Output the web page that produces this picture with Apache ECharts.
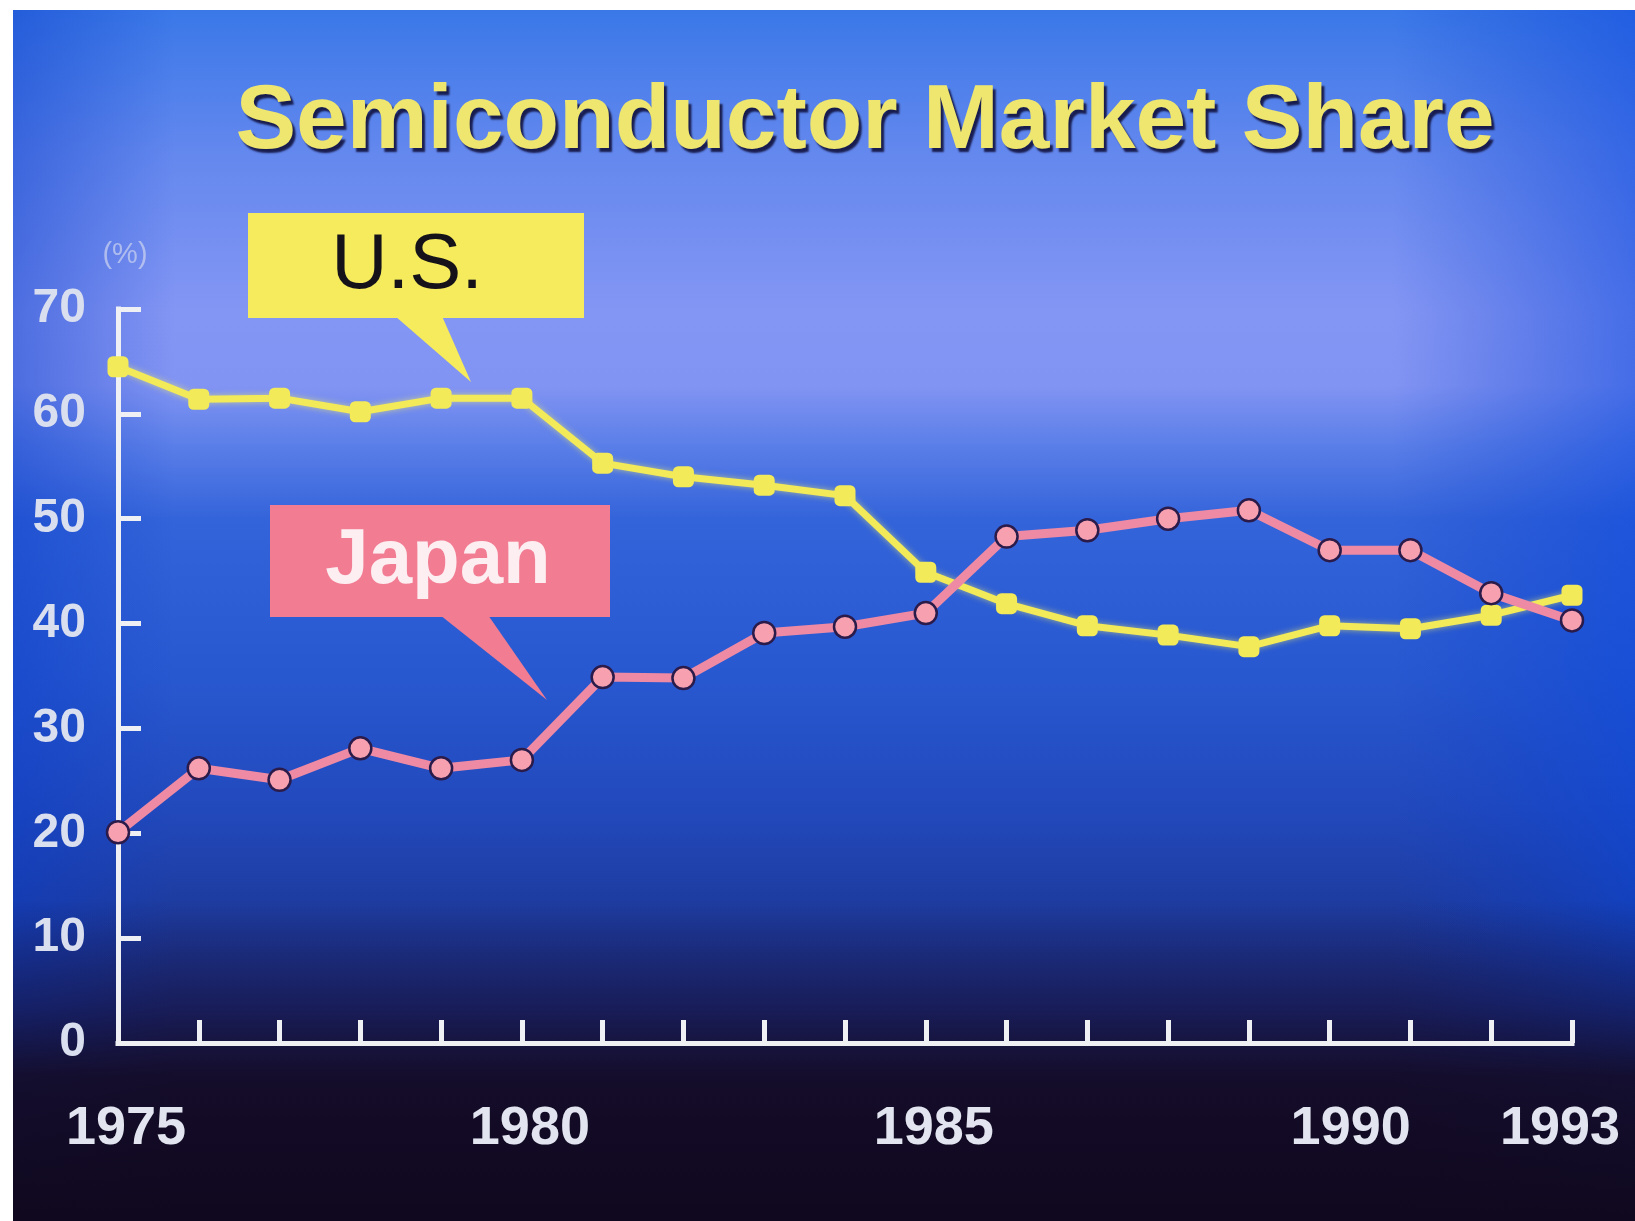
<!DOCTYPE html>
<html>
<head>
<meta charset="utf-8">
<script src="https://cdn.jsdelivr.net/npm/echarts@6/dist/echarts.min.js"></script>
<style>
html,body{margin:0;padding:0;background:#ffffff;}
#chart{width:1635px;height:1221px;}
</style>
</head>
<body>
<div id="chart"></div>
<script>
// ---- data ----
var years = ['1975','1976','1977','1978','1979','1980','1981','1982','1983','1984','1985','1986','1987','1988','1989','1990','1991','1992','1993'];
var usShare = [64.5, 61.4, 61.5, 60.2, 61.5, 61.5, 55.3, 54.0, 53.2, 52.2, 44.9, 41.9, 39.8, 38.9, 37.8, 39.8, 39.5, 40.8, 42.7];
var japanShare = [20.1, 26.2, 25.1, 28.1, 26.2, 27.0, 34.9, 34.8, 39.1, 39.7, 41.0, 48.3, 48.9, 50.0, 50.8, 47.0, 47.0, 42.9, 40.3];
var xTickLabels = ['1975','1980','1985','1990','1993'];
var yTicks = [0, 10, 20, 30, 40, 50, 60, 70];
var titleText = 'Semiconductor Market Share';
var usLabel = 'U.S.';
var japanLabel = 'Japan';
var yUnit = '(%)';

var chart = echarts.init(document.getElementById('chart'), null, {renderer: 'canvas'});

var FONT = '"Liberation Sans", Arial, Helvetica, sans-serif';
var xLabelBase = {fontFamily: FONT, fontSize: 54, fontWeight: 'bold', color: '#e2e5f0'};

var option = {
  backgroundColor: '#ffffff',
  animation: false,
  title: {
    text: titleText,
    left: 860,
    top: 72,
    textAlign: 'center',
    textStyle: {
      fontFamily: FONT,
      fontSize: 91,
      fontWeight: 'bold',
      lineHeight: 92,
      color: '#efe670',
      textShadowColor: 'rgba(20,22,70,0.95)',
      textShadowBlur: 2,
      textShadowOffsetX: 3,
      textShadowOffsetY: 4
    }
  },
  grid: {left: 118, right: 63, top: 309, bottom: 178, containLabel: false},
  xAxis: {
    type: 'category',
    data: years,
    boundaryGap: false,
    axisLine: {show: true, lineStyle: {color: '#eef0f4', width: 5, cap: 'square'}},
    axisTick: {show: true, inside: true, interval: 0, length: 23, lineStyle: {color: '#eef0f4', width: 5}},
    axisLabel: {
      interval: 0,
      margin: 59,
      fontFamily: FONT,
      fontSize: 54,
      fontWeight: 'bold',
      color: '#e2e5f0',
      formatter: function (v) {
        var i = xTickLabels.indexOf(v);
        if (i < 0) return '';
        if (i === xTickLabels.length - 1) return '{c|' + v + '}';
        if (i === xTickLabels.length - 2) return '{b|' + v + '}';
        return '{a|' + v + '}';
      },
      rich: {
        a: Object.assign({padding: [0, 0, 0, 16]}, xLabelBase),
        b: Object.assign({padding: [0, 0, 0, 42]}, xLabelBase),
        c: Object.assign({padding: [0, 24, 0, 0]}, xLabelBase)
      }
    },
    splitLine: {show: false}
  },
  yAxis: {
    type: 'value',
    min: yTicks[0],
    max: yTicks[yTicks.length - 1],
    interval: 10,
    name: yUnit,
    nameLocation: 'end',
    nameGap: 40,
    nameTextStyle: {fontFamily: FONT, fontSize: 29, color: 'rgba(205,212,240,0.7)', align: 'center', padding: [0, 0, 0, 14]},
    axisLine: {show: true, lineStyle: {color: '#eef0f4', width: 5, cap: 'square'}},
    axisTick: {show: true, inside: true, length: 23, lineStyle: {color: '#eef0f4', width: 5}},
    axisLabel: {margin: 32, fontFamily: FONT, fontSize: 48, fontWeight: 'bold', color: '#dadfef'},
    splitLine: {show: false}
  },
  graphic: [
    {
      type: 'rect', z: -10, silent: true,
      shape: {x: 13, y: 10, width: 1622, height: 1211},
      style: {
        fill: new echarts.graphic.LinearGradient(0, 0, 0, 1, [
          {offset: 0, color: '#3a78e8'},
          {offset: 0.12, color: '#6488ee'},
          {offset: 0.25, color: '#8496f4'},
          {offset: 0.31, color: '#8294f3'},
          {offset: 0.36, color: '#5a7ee8'},
          {offset: 0.42, color: '#3464da'},
          {offset: 0.55, color: '#2858d0'},
          {offset: 0.66, color: '#2249bc'},
          {offset: 0.75, color: '#1d3a9c'},
          {offset: 0.82, color: '#1c2d80'},
          {offset: 0.9, color: '#181640'},
          {offset: 1, color: '#120a22'}
        ])
      }
    },
    {
      type: 'rect', z: -9, silent: true,
      shape: {x: 13, y: 10, width: 1622, height: 1211},
      style: {
        fill: new echarts.graphic.LinearGradient(0, 0, 1, 0, [
          {offset: 0, color: 'rgba(10,60,200,0.45)'},
          {offset: 0.1, color: 'rgba(10,60,200,0)'},
          {offset: 0.85, color: 'rgba(10,60,200,0)'},
          {offset: 1, color: 'rgba(8,70,220,0.5)'}
        ])
      }
    },
    {
      type: 'rect', z: -8, silent: true,
      shape: {x: 13, y: 900, width: 1622, height: 321},
      style: {
        fill: new echarts.graphic.LinearGradient(0, 0, 0, 1, [
          {offset: 0, color: 'rgba(22,20,70,0)'},
          {offset: 0.35, color: 'rgba(22,18,62,0.6)'},
          {offset: 0.55, color: 'rgba(20,12,40,0.92)'},
          {offset: 1, color: 'rgba(16,8,30,1)'}
        ])
      }
    },
    // U.S. callout
    {
      type: 'group', z: 20,
      children: [
        {type: 'polygon', shape: {points: [[395, 316], [442, 316], [471, 382]]}, style: {fill: '#f5eb5c'}},
        {type: 'rect', shape: {x: 248, y: 213, width: 336, height: 105}, style: {fill: '#f5eb5c'}},
        {type: 'text', style: {text: usLabel, x: 407, y: 266, align: 'center', verticalAlign: 'middle', font: 'normal 78px "Liberation Sans", Arial, sans-serif', fill: '#15121a'}}
      ]
    },
    // Japan callout
    {
      type: 'group', z: 20,
      children: [
        {type: 'polygon', shape: {points: [[440, 615], [488, 615], [547, 700]]}, style: {fill: '#f27d92'}},
        {type: 'rect', shape: {x: 270, y: 505, width: 340, height: 112}, style: {fill: '#f27d92'}},
        {type: 'text', style: {text: japanLabel, x: 438, y: 561, align: 'center', verticalAlign: 'middle', font: 'bold 78px "Liberation Sans", Arial, sans-serif', fill: '#fdeef2'}}
      ]
    }
  ],
  series: [
    {
      name: 'U.S.',
      type: 'line',
      data: usShare,
      symbol: 'roundRect',
      symbolSize: 21,
      z: 3,
      lineStyle: {color: '#f2ea58', width: 7, shadowColor: 'rgba(245,240,100,0.6)', shadowBlur: 6},
      itemStyle: {color: '#f2ea58', borderWidth: 0}
    },
    {
      name: 'Japan',
      type: 'line',
      data: japanShare,
      symbol: 'circle',
      symbolSize: 22,
      z: 4,
      lineStyle: {color: '#ee8aa3', width: 9},
      itemStyle: {color: '#f6a0b0', borderColor: '#2a1b4a', borderWidth: 2.5}
    }
  ]
};

chart.setOption(option);
</script>
</body>
</html>
